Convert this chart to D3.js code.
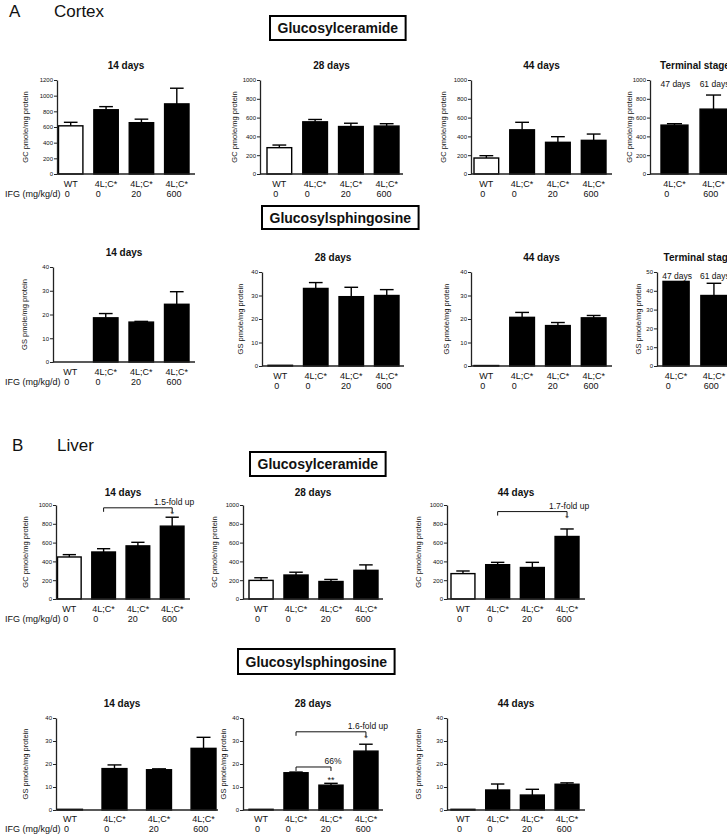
<!DOCTYPE html>
<html>
<head>
<meta charset="utf-8">
<script src="https://cdn.jsdelivr.net/npm/d3@7"></script>
<style>
  body { margin: 0; background: #fff; }
  svg text { font-family: Arial, "Liberation Sans", Helvetica, sans-serif; fill: #111; }
</style>
</head>
<body>
<div id="vis"></div>
<script>
// ---- data ----
var groups = ['WT', '4L;C*', '4L;C*', '4L;C*'];
var doses = ['0', '0', '20', '600'];
var termGroups = ['4L;C*', '4L;C*'];
var termDoses = ['0', '600'];
var termAges = ['47 days', '61 days'];

// Cortex, glucosylceramide (pmole/mg protein)
var cortexGC14 = [615, 820, 655, 895],   cortexGC14Err = [45, 40, 45, 200];
var cortexGC28 = [280, 555, 505, 510],   cortexGC28Err = [28, 25, 35, 25];
var cortexGC44 = [170, 470, 337, 358],   cortexGC44Err = [25, 80, 60, 67];
var cortexGCTerm = [520, 690],           cortexGCTermErr = [15, 150];

// Cortex, glucosylsphingosine
var cortexGS14 = [0, 18.6, 16.8, 24.3],  cortexGS14Err = [0, 1.8, 0.3, 5.3];
var cortexGS28 = [0.3, 33, 29.5, 30],    cortexGS28Err = [0, 2.5, 4, 2.5];
var cortexGS44 = [0.2, 20.7, 17.2, 20.5], cortexGS44Err = [0, 2.1, 1.3, 1];
var cortexGSTerm = [45, 37.5],           cortexGSTermErr = [0, 6.5];

// Liver, glucosylceramide
var liverGC14 = [447, 500, 565, 775],    liverGC14Err = [25, 35, 38, 95];
var liverGC28 = [198, 255, 186, 305],    liverGC28Err = [28, 30, 22, 58];
var liverGC44 = [270, 365, 335, 665],    liverGC44Err = [28, 25, 55, 80];

// Liver, glucosylsphingosine
var liverGS14 = [0.3, 18, 17.5, 26.8],   liverGS14Err = [0, 1.6, 0.4, 4.8];
var liverGS28 = [0.3, 16.2, 10.8, 25.6], liverGS28Err = [0, 0.3, 0.8, 3];
var liverGS44 = [0.3, 8.7, 6.5, 11.2],   liverGS44Err = [0, 2.6, 2.5, 0.6];

// significance brackets: [from bar, to bar, level, label, star, star level]
var liverGC14Notes = [[1, 3, 970, '1.5-fold up', '*', 905]];
var liverGC44Notes = [[1, 3, 930, '1.7-fold up', '*', 860]];
var liverGS28Notes = [[1, 3, 34, '1.6-fold up', '*', 31.5], [1, 2, 18.7, '66%', '**', 13.2]];

var svg = d3.select('#vis').append('svg')
            .attr('width', 727)
            .attr('height', 836);

function sectionLabel(letter, name, x, y) {
    svg.append('text').attr('x', x).attr('y', y).attr('font-size', 17).text(letter);
    svg.append('text').attr('x', x + 45).attr('y', y).attr('font-size', 17).text(name);
}

function boxTitle(txt, x, y, h) {
    var t = svg.append('text')
               .attr('x', x + 7.5)
               .attr('y', y + h / 2)
               .attr('dy', '0.36em')
               .attr('font-size', 14)
               .attr('font-weight', 'bold')
               .text(txt);
    var w = t.node().getComputedTextLength();
    svg.append('rect')
       .attr('x', x).attr('y', y)
       .attr('width', w + 15).attr('height', h)
       .attr('fill', 'none')
       .attr('stroke', '#000')
       .attr('stroke-width', 2);
}

function drawPanel(p) {
    var n = p.values.length;
    var g = svg.append('g');

    var xScale = d3.scaleBand()
                   .domain(d3.range(n))
                   .range([p.x0 + p.gapL, p.x1 - p.gapR])
                   .paddingInner(p.pad || 0.31)
                   .paddingOuter(0);
    var yScale = d3.scaleLinear()
                   .domain([0, p.max])
                   .range([p.zero, p.top]);
    var bw = xScale.bandwidth();

    // title
    g.append('text')
     .attr('x', p.titleX || (p.x0 + p.x1) / 2)
     .attr('y', p.top - p.titleGap)
     .attr('text-anchor', 'middle')
     .attr('font-size', 10)
     .attr('font-weight', 'bold')
     .text(p.title);

    // y label
    g.append('text')
     .attr('transform', `translate(${p.x0 - p.labelOff},${(p.top + p.zero) / 2}) rotate(-90)`)
     .attr('text-anchor', 'middle')
     .attr('font-size', 7.5)
     .attr('fill', '#333')
     .text(p.yLabel);

    // bars
    g.selectAll('rect.bar')
     .data(p.values)
     .enter()
     .append('rect')
     .attr('class', 'bar')
     .attr('x', (d, i) => xScale(i))
     .attr('width', bw)
     .attr('y', (d) => yScale(d))
     .attr('height', (d) => p.zero - yScale(d))
     .attr('fill', (d, i) => p.cats[i] == 'WT' ? '#fff' : '#000')
     .attr('stroke', '#000')
     .attr('stroke-width', 1.4);

    // error bars (upper only)
    var eb = g.selectAll('g.err')
              .data(p.values.map((v, i) => ({v: v, e: p.errs[i], i: i})).filter((d) => d.e > 0))
              .enter()
              .append('g')
              .attr('class', 'err');
    eb.append('line')
      .attr('x1', (d) => xScale(d.i) + bw / 2)
      .attr('x2', (d) => xScale(d.i) + bw / 2)
      .attr('y1', (d) => yScale(d.v))
      .attr('y2', (d) => yScale(d.v + d.e))
      .attr('stroke', '#000').attr('stroke-width', 1.4);
    eb.append('line')
      .attr('x1', (d) => xScale(d.i) + bw * 0.22)
      .attr('x2', (d) => xScale(d.i) + bw * 0.78)
      .attr('y1', (d) => yScale(d.v + d.e))
      .attr('y2', (d) => yScale(d.v + d.e))
      .attr('stroke', '#000').attr('stroke-width', 1.4);

    // axes
    var yAxis = d3.axisLeft(yScale)
                  .tickValues(d3.range(0, p.max + 0.001, p.step))
                  .tickFormat(d3.format('d'))
                  .tickSize(3)
                  .tickSizeOuter(0)
                  .tickPadding(1);
    var ya = g.append('g')
              .attr('transform', `translate(${p.x0},0)`)
              .call(yAxis);
    ya.select('.domain').attr('stroke', '#222').attr('stroke-width', 1.3);
    ya.selectAll('.tick line').attr('stroke', '#222').attr('stroke-width', 1);
    ya.selectAll('.tick text').attr('font-size', 6).attr('font-family', null).attr('fill', '#222');

    g.append('line')
     .attr('x1', p.x0).attr('x2', p.x1)
     .attr('y1', p.zero).attr('y2', p.zero)
     .attr('stroke', '#222').attr('stroke-width', 1.3);

    // category labels
    var cat = g.selectAll('text.cat')
               .data(p.cats)
               .enter()
               .append('text')
               .attr('class', 'cat')
               .attr('x', (d, i) => xScale(i) + bw / 2)
               .attr('y', p.zero + p.catGap)
               .attr('text-anchor', 'middle')
               .attr('font-size', 9)
               .attr('fill', '#333')
               .text((d) => d);
    var widths = [];
    cat.each(function() { widths.push(this.getComputedTextLength()); });
    g.selectAll('text.dose')
     .data(p.doses)
     .enter()
     .append('text')
     .attr('class', 'dose')
     .attr('x', (d, i) => xScale(i) + bw / 2 - widths[i] / 2 + 1)
     .attr('y', p.zero + p.catGap + 10)
     .attr('font-size', 9)
     .attr('fill', '#333')
     .text((d) => d);

    if (p.ifg) {
        g.append('text')
         .attr('x', 5)
         .attr('y', p.zero + p.catGap + 10)
         .attr('font-size', 9)
         .attr('fill', '#333')
         .text('IFG (mg/kg/d)');
    }

    // ages above terminal-stage bars
    if (p.ages) {
        g.selectAll('text.age')
         .data(p.ages)
         .enter()
         .append('text')
         .attr('x', (d, i) => xScale(i) + bw / 2 + 1)
         .attr('y', p.top + 7)
         .attr('text-anchor', 'middle')
         .attr('font-size', 8.5)
         .text((d) => d);
    }

    // significance brackets
    (p.notes || []).forEach(function(nt) {
        var xa = xScale(nt[0]) + bw / 2, xb = xScale(nt[1]) + bw / 2, yl = yScale(nt[2]);
        g.append('path')
         .attr('d', `M${xa},${yl + 4}V${yl}H${xb}V${yl + 4}`)
         .attr('fill', 'none')
         .attr('stroke', '#111')
         .attr('stroke-width', 1);
        g.append('text')
         .attr('x', xb + 2)
         .attr('y', yl - 3)
         .attr('text-anchor', 'middle')
         .attr('font-size', 8.5)
         .attr('fill', '#333')
         .text(nt[3]);
        g.append('text')
         .attr('x', xb)
         .attr('y', yScale(nt[5]) + 3)
         .attr('text-anchor', 'middle')
         .attr('font-size', 9)
         .text(nt[4]);
    });
}

var gcLabel = 'GC pmole/mg protein';
var gsLabel = 'GS pmole/mg protein';

// ---- A: Cortex ----
sectionLabel('A', 'Cortex', 9, 17);
boxTitle('Glucosylceramide', 270, 16, 24);

var r1 = {top: 80, zero: 174, titleGap: 11.5, catGap: 12.5, yLabel: gcLabel, step: 200};
drawPanel(Object.assign({}, r1, {x0: 57, x1: 195, gapL: 1.5, gapR: 6, labelOff: 29, max: 1200, title: '14 days', cats: groups, doses: doses, values: cortexGC14, errs: cortexGC14Err, ifg: true}));
drawPanel(Object.assign({}, r1, {x0: 260, x1: 403, gapL: 7, gapR: 4, labelOff: 23, max: 1000, title: '28 days', cats: groups, doses: doses, values: cortexGC28, errs: cortexGC28Err}));
drawPanel(Object.assign({}, r1, {x0: 471, x1: 612, gapL: 3, gapR: 6, labelOff: 25, max: 1000, title: '44 days', cats: groups, doses: doses, values: cortexGC44, errs: cortexGC44Err}));
drawPanel(Object.assign({}, r1, {x0: 650, x1: 740, gapL: 11, gapR: 13, labelOff: 18, max: 1000, title: 'Terminal stage', cats: termGroups, doses: termDoses, values: cortexGCTerm, errs: cortexGCTermErr, ages: termAges}));

boxTitle('Glucosylsphingosine', 262, 206, 23);

var r2 = {top: 272, zero: 366, titleGap: 11.5, catGap: 12.5, yLabel: gsLabel, step: 10, max: 40};
drawPanel(Object.assign({}, r2, {top: 267, zero: 362, x0: 53, x1: 195, gapL: 5, gapR: 6, labelOff: 26, title: '14 days', cats: groups, doses: doses, values: cortexGS14, errs: cortexGS14Err, ifg: true}));
drawPanel(Object.assign({}, r2, {x0: 262, x1: 404, gapL: 6, gapR: 5, labelOff: 19, title: '28 days', cats: groups, doses: doses, values: cortexGS28, errs: cortexGS28Err}));
drawPanel(Object.assign({}, r2, {x0: 471, x1: 612, gapL: 3, gapR: 6, labelOff: 22, title: '44 days', cats: groups, doses: doses, values: cortexGS44, errs: cortexGS44Err}));
drawPanel(Object.assign({}, r2, {x0: 657, x1: 740, gapL: 6, gapR: 13, labelOff: 16, max: 50, title: 'Terminal stage', cats: termGroups, doses: termDoses, values: cortexGSTerm, errs: cortexGSTermErr, ages: termAges}));

// ---- B: Liver ----
sectionLabel('B', 'Liver', 12, 451);
boxTitle('Glucosylceramide', 250, 452, 24);

var r3 = {top: 505, zero: 599, titleGap: 9.5, catGap: 12.5, yLabel: gcLabel, step: 200, max: 1000};
drawPanel(Object.assign({}, r3, {x0: 56, x1: 190, gapL: 1.5, gapR: 6, labelOff: 28, title: '14 days', cats: groups, doses: doses, values: liverGC14, errs: liverGC14Err, ifg: true, notes: liverGC14Notes}));
drawPanel(Object.assign({}, r3, {x0: 243, x1: 383, gapL: 6, gapR: 5, labelOff: 26, title: '28 days', cats: groups, doses: doses, values: liverGC28, errs: liverGC28Err}));
drawPanel(Object.assign({}, r3, {x0: 447, x1: 585, gapL: 4, gapR: 6, labelOff: 26, title: '44 days', cats: groups, doses: doses, values: liverGC44, errs: liverGC44Err, notes: liverGC44Notes}));

boxTitle('Glucosylsphingosine', 238, 649, 25);

var r4 = {top: 718, zero: 810, titleGap: 11.5, catGap: 11.5, yLabel: gsLabel, step: 10, max: 40};
drawPanel(Object.assign({}, r4, {x0: 56, x1: 218, gapL: 1.5, gapR: 2, pad: 0.44, titleX: 122, labelOff: 28, title: '14 days', cats: groups, doses: doses, values: liverGS14, errs: liverGS14Err, ifg: true}));
drawPanel(Object.assign({}, r4, {x0: 243, x1: 383, gapL: 6, gapR: 5, labelOff: 17, title: '28 days', cats: groups, doses: doses, values: liverGS28, errs: liverGS28Err, notes: liverGS28Notes}));
drawPanel(Object.assign({}, r4, {x0: 447, x1: 585, gapL: 4, gapR: 6, labelOff: 26, title: '44 days', cats: groups, doses: doses, values: liverGS44, errs: liverGS44Err}));
</script>
</body>
</html>
